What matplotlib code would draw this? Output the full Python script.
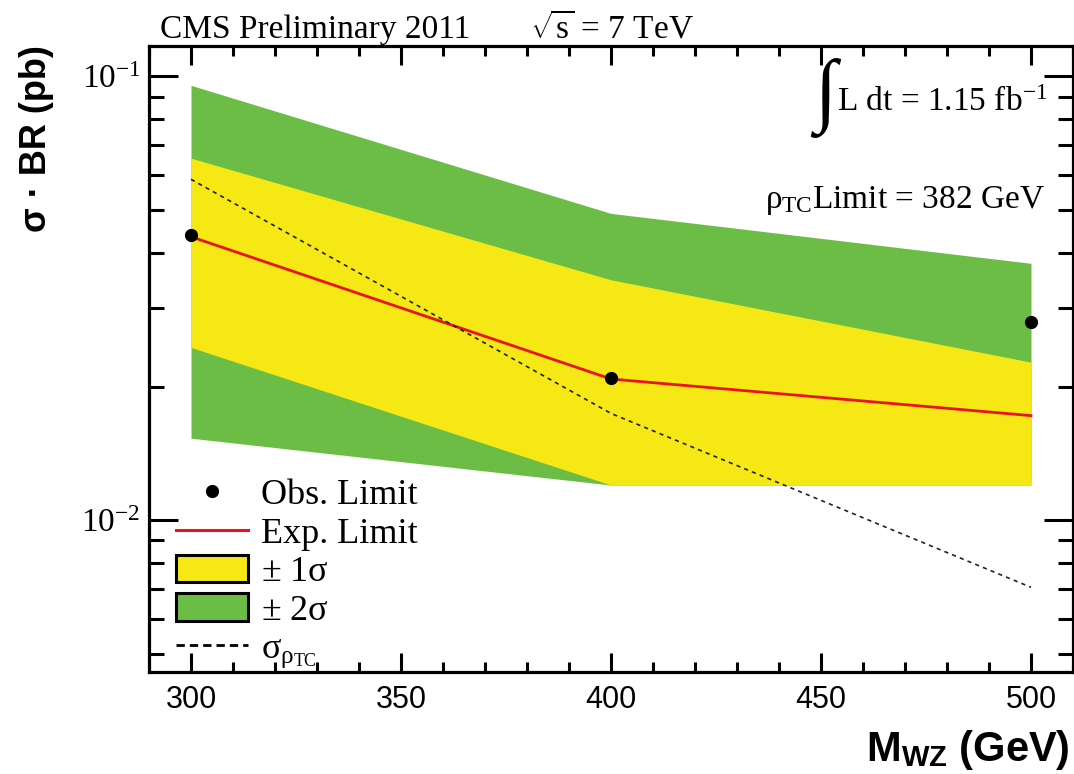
import matplotlib
matplotlib.use('Agg')
import matplotlib.pyplot as plt
from matplotlib.lines import Line2D
from matplotlib.patches import Patch
from matplotlib.ticker import LogLocator, NullFormatter, FixedLocator, FixedFormatter, MultipleLocator

# ---- data ----
mass = [300, 400, 500]
obs_limit = [0.0438, 0.0209, 0.0279]
exp_limit = [0.0435, 0.0208, 0.0172]
exp_1s_lo = [0.0245, 0.0120, 0.0120]
exp_1s_hi = [0.0654, 0.0348, 0.0227]
exp_2s_lo = [0.0153, 0.0120, 0.0120]
exp_2s_hi = [0.0954, 0.0491, 0.0379]
theory_mass = [300, 400, 500]
theory_xsec = [0.0586, 0.0174, 0.00706]

xticks = [300, 350, 400, 450, 500]
xticklabels = ['300', '350', '400', '450', '500']
yticks = [0.01, 0.1]
yticklabels = [r'$\mathregular{10^{-2}}$', r'$\mathregular{10^{-1}}$']

GREEN = '#6bbd45'
YELLOW = '#f5e814'
RED = '#e8141b'

plt.rcParams['font.family'] = ['Liberation Serif', 'DejaVu Serif']
plt.rcParams['mathtext.fontset'] = 'custom'
plt.rcParams['mathtext.rm'] = 'Liberation Serif'
plt.rcParams['mathtext.it'] = 'Liberation Serif'
plt.rcParams['mathtext.bf'] = 'Liberation Sans:bold'
plt.rcParams['mathtext.sf'] = 'Liberation Sans'

fig = plt.figure(figsize=(10.74, 7.74), dpi=100)
ax = fig.add_axes([149/1074, 1-672/774, (1073-149)/1074, (672-46)/774])

ax.fill_between(mass, exp_2s_lo, exp_2s_hi, color=GREEN, lw=0, zorder=1)
ax.fill_between(mass, exp_1s_lo, exp_1s_hi, color=YELLOW, lw=0, zorder=2)
ax.plot(mass, exp_limit, color=RED, lw=2.0, zorder=3)
ax.plot(theory_mass, theory_xsec, color='#222222', lw=1.2, ls=(0, (2.5, 2.5)), zorder=4)
ax.plot(mass, obs_limit, 'o', color='black', ms=8.5, zorder=5, clip_on=False)

ax.set_yscale('log')
ax.set_xlim(290, 510)
ax.set_ylim(0.00455, 0.117)

ax.xaxis.set_major_locator(FixedLocator(xticks))
ax.xaxis.set_major_formatter(FixedFormatter(xticklabels))
ax.xaxis.set_minor_locator(MultipleLocator(10))
ax.yaxis.set_major_locator(FixedLocator(yticks))
ax.yaxis.set_major_formatter(FixedFormatter(yticklabels))
ax.yaxis.set_minor_locator(LogLocator(base=10, subs=range(2, 10)))
ax.yaxis.set_minor_formatter(NullFormatter())

for s in ax.spines.values():
    s.set_linewidth(2.3)
ax.tick_params(which='both', direction='in', top=True, right=True, width=2.2)
ax.tick_params(axis='x', which='major', length=14, pad=9)
ax.tick_params(axis='x', which='minor', length=7.5)
ax.tick_params(axis='y', which='major', length=21, pad=6)
ax.tick_params(axis='y', which='minor', length=10.5)
for lab in ax.get_xticklabels():
    lab.set_fontfamily(['Liberation Sans Narrow', 'Liberation Sans'])
    lab.set_fontsize(22)
for lab in ax.get_yticklabels():
    lab.set_fontfamily('Liberation Serif')
    lab.set_fontsize(24)

# legend
handles = [
    Line2D([], [], marker='o', color='black', ls='none', ms=8.5),
    Line2D([], [], color=RED, lw=2.2),
    Patch(facecolor=YELLOW, edgecolor='black', lw=2.2),
    Patch(facecolor=GREEN, edgecolor='black', lw=2.2),
    Line2D([], [], color='black', lw=2.0, ls=(0, (3, 1.8))),
]
labels = ['Obs. Limit', 'Exp. Limit', r'$\pm$ 1$\sigma$', r'$\pm$ 2$\sigma$',
          r'$\sigma_{\rho_{TC}}$']
leg = ax.legend(handles, labels, loc='upper left',
                bbox_to_anchor=((176-149)/924, (672-478)/626),
                frameon=False, fontsize=26, borderpad=0, borderaxespad=0,
                handlelength=2.0, handleheight=0.78, handletextpad=0.36,
                labelspacing=0.12)

# annotations
fig.text(160/1074, 1-38/774, 'CMS Preliminary 2011', fontsize=24,
         ha='left', va='baseline')
fig.text(530/1074, 1-38/774, r'$\sqrt{s}$ = 7 TeV', fontsize=24,
         ha='left', va='baseline')
fig.text(810/1074, 1-98/774, r'$\int$', fontsize=58, ha='left', va='center')
fig.text(837/1074, 1-111/774, r'L dt = 1.15 fb$^{-1}$', fontsize=24,
         ha='left', va='baseline')
fig.text(765/1074, 1-208/774, r'$\rho_{TC}$Limit = 382 GeV', fontsize=24,
         ha='left', va='baseline')

fig.text(1070/1074, 1-750/774, r'M$_{\mathbf{WZ}}$ (GeV)', fontsize=30,
         fontweight='bold', family='Liberation Sans', ha='right', va='center')
fig.text(37/1074, 1-45/774, 'σ · BR (pb)', fontsize=26,
         fontweight='bold', family=['Liberation Sans', 'DejaVu Sans'], rotation=90,
         ha='center', va='top')

fig.savefig('out.png', dpi=100)
